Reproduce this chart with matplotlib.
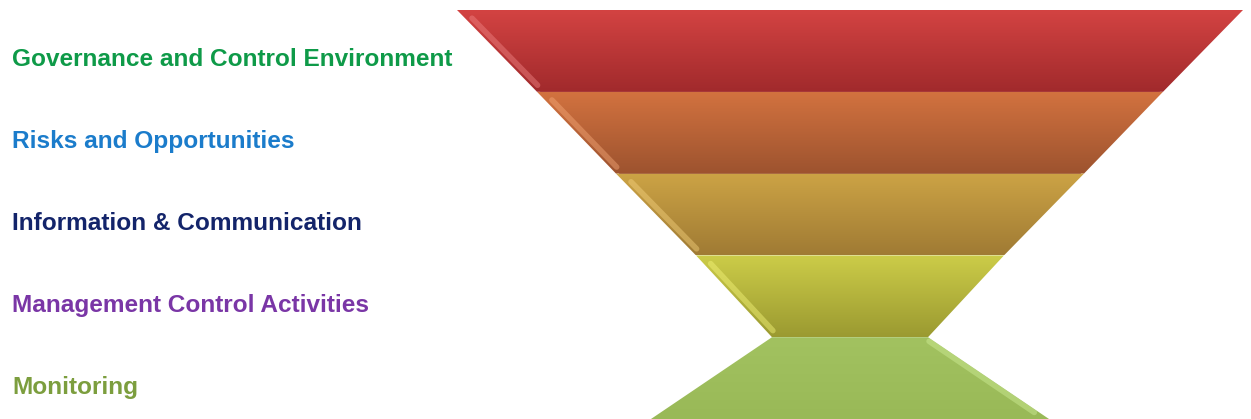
import numpy as np
import matplotlib.pyplot as plt
from matplotlib.patches import Polygon
from matplotlib.colors import LinearSegmentedColormap

# Funnel levels, top to bottom
labels = ["Governance and Control Environment", "Risks and Opportunities",
          "Information & Communication", "Management Control Activities", "Monitoring"]
label_colors = ["#0E9A48", "#1B7CCB", "#13246A", "#7A36A6", "#7C9E3E"]

# Widths of the funnel edges (top of level 1 ... bottom of level 5)
edge_widths = [786, 626, 468, 308, 156, 398]

# Colour at top / bottom of each band
band_top = ["#D34342", "#D2723F", "#CCA345", "#CCCC48", "#A2C260"]
band_bottom = ["#A12A2C", "#9D532F", "#A07B34", "#9B9A31", "#99B957"]
band_edge_light = ["#F08585", "#F5A878", "#F5D27E", "#F5F57A", "#D0EE98"]

W, H = 1251, 419
cx = 850
y_top = 10
band_h = 81.8

fig = plt.figure(figsize=(W / 100, H / 100), dpi=100)
ax = fig.add_axes([0, 0, 1, 1])
ax.set_xlim(0, W)
ax.set_ylim(H, 0)
ax.axis("off")

for i in range(len(labels)):
    y0 = y_top + i * band_h
    y1 = y0 + band_h
    w0 = edge_widths[i] / 2
    w1 = edge_widths[i + 1] / 2
    pts = [(cx - w0, y0), (cx + w0, y0), (cx + w1, y1), (cx - w1, y1)]
    poly = Polygon(pts, closed=True, facecolor="none", edgecolor="none")
    ax.add_patch(poly)
    cmap = LinearSegmentedColormap.from_list("b%d" % i, [band_top[i], band_bottom[i]])
    grad = np.linspace(0, 1, 100).reshape(-1, 1)
    wmax = max(w0, w1)
    im = ax.imshow(grad, cmap=cmap, aspect="auto",
                   extent=(cx - wmax, cx + wmax, y1, y0), zorder=1)
    im.set_clip_path(poly)
    # bevel highlight along the slanted edge
    if i < 4:
        f0, f1 = 0.1, 0.92
        xa = cx - w0 + (w0 - w1) * f0 + 7
        xb = cx - w0 + (w0 - w1) * f1 + 7
    else:
        f0, f1 = 0.05, 0.92
        xa = cx + w0 + (w1 - w0) * f0 - 5
        xb = cx + w0 + (w1 - w0) * f1 - 5
    ln, = ax.plot([xa, xb], [y0 + band_h * f0, y0 + band_h * f1], color=band_edge_light[i],
                  lw=4, alpha=0.45, solid_capstyle="round", zorder=2)
    ln.set_clip_path(poly)
    # thin darker line at the band bottom
    ax.plot([cx - w1 + 4, cx + w1 - 4], [y1 - 1, y1 - 1], color=band_bottom[i],
            lw=1.2, alpha=0.8, zorder=2)

for i, (lab, col) in enumerate(zip(labels, label_colors)):
    ax.text(12, 60 + i * band_h, lab, color=col, fontsize=17.6, fontweight="bold",
            family="Liberation Sans", va="center", ha="left")

fig.savefig("out.png", dpi=100)
